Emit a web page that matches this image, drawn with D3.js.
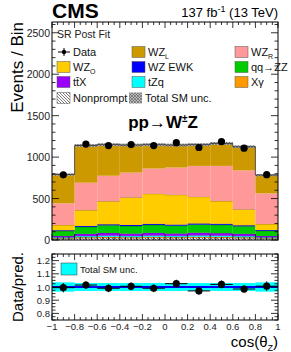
<!DOCTYPE html>
<html>
<head>
<meta charset="utf-8">
<script src="https://d3js.org/d3.v7.min.js"></script>
<style>
  html, body { margin: 0; padding: 0; background: #fff; }
  svg { display: block; font-family: "Liberation Sans", Arial, sans-serif; }
</style>
</head>
<body>
<script>
// bins of cos(theta_Z)
var binEdges = [-1, -0.8, -0.6, -0.4, -0.2, 0, 0.2, 0.4, 0.6, 0.8, 1];

// stacked processes, bottom to top
var nonprompt = [14, 22, 24, 22, 25, 23, 26, 24, 22, 14];
var xgamma    = [8, 12, 13, 12, 13, 12, 13, 13, 12, 8];
var tzq       = [10, 14, 16, 15, 16, 15, 17, 16, 14, 10];
var ttx       = [16, 26, 32, 28, 32, 28, 32, 30, 26, 16];
var qqzz      = [60, 84, 93, 92, 96, 95, 98, 100, 92, 62];
var wzEwk     = [10, 12, 12, 13, 13, 13, 14, 13, 12, 10];
var wzO       = [63, 191, 278, 332, 363, 360, 322, 274, 192, 73];
var wzR       = [261, 330, 307, 299, 304, 328, 372, 424, 470, 369];
var wzL       = [348, 449, 375, 332, 288, 271, 256, 271, 285, 221];

var dataCounts = [786, 1157, 1139, 1151, 1139, 1174, 1116, 1188, 1108, 788];
var relUnc     = [0.035, 0.03, 0.03, 0.03, 0.03, 0.03, 0.03, 0.03, 0.03, 0.035];

var mainTicks  = [0, 500, 1000, 1500, 2000, 2500];
var ratioTicks = [0.8, 0.9, 1.0, 1.1, 1.2];
var xTicks     = [-1, -0.8, -0.6, -0.4, -0.2, 0, 0.2, 0.4, 0.6, 0.8, 1];

var keys = ["nonprompt", "xgamma", "tzq", "ttx", "qqzz", "wzEwk", "wzO", "wzR", "wzL"];
var series = {nonprompt: nonprompt, xgamma: xgamma, tzq: tzq, ttx: ttx, qqzz: qqzz,
              wzEwk: wzEwk, wzO: wzO, wzR: wzR, wzL: wzL};
var colors = {nonprompt: "url(#hatchNP)", xgamma: "#ff9900", tzq: "#00ffff", ttx: "#9900ff",
              qqzz: "#00cc00", wzEwk: "#0000ff", wzO: "#ffcc00", wzR: "#ff9999", wzL: "#cc9900"};

var table = binEdges.slice(0, -1).map(function(lo, i) {
  var row = {lo: lo, hi: binEdges[i + 1]};
  keys.forEach(function(k) { row[k] = series[k][i]; });
  return row;
});
var stacked = d3.stack().keys(keys)(table);
var totals = table.map(function(r) { return d3.sum(keys, function(k) { return r[k]; }); });

var W = 291, H = 352;
var L = 52, R = 278;
var mainTop = 22, mainBot = 240;
var ratTop = 254, ratBot = 320;

var svg = d3.select("body").append("svg").attr("width", W).attr("height", H);
var defs = svg.append("defs");

var p1 = defs.append("pattern").attr("id", "hatchNP").attr("patternUnits", "userSpaceOnUse")
  .attr("width", 3).attr("height", 3);
p1.append("rect").attr("width", 3).attr("height", 3).attr("fill", "#fff");
p1.append("path").attr("d", "M0,0 L3,3 M-1,2 L1,4 M2,-1 L4,1").attr("stroke", "#444").attr("stroke-width", 0.7);

var p2 = defs.append("pattern").attr("id", "hatchUnc").attr("patternUnits", "userSpaceOnUse")
  .attr("width", 3).attr("height", 3);
p2.append("rect").attr("width", 3).attr("height", 3).attr("fill", "#bbb");
p2.append("path").attr("d", "M0,0 L3,3 M3,0 L0,3").attr("stroke", "#555").attr("stroke-width", 0.6);

var x = d3.scaleLinear().domain([-1, 1]).range([L, R]);
var y = d3.scaleLinear().domain([0, 2630]).range([mainBot, mainTop]);
var yr = d3.scaleLinear().domain([0.75, 1.25]).range([ratBot, ratTop]);

// ---- main panel ----
var gMain = svg.append("g");
stacked.forEach(function(layer) {
  gMain.append("g").selectAll("rect").data(layer).enter().append("rect")
    .attr("x", function(d) { return x(d.data.lo); })
    .attr("width", function(d) { return x(d.data.hi) - x(d.data.lo); })
    .attr("y", function(d) { return y(d[1]); })
    .attr("height", function(d) { return y(d[0]) - y(d[1]); })
    .attr("fill", colors[layer.key]);
  if (layer.key !== "wzL" && layer.key !== "wzR") {
    gMain.append("g").selectAll("line").data(layer).enter().append("line")
      .attr("x1", function(d) { return x(d.data.lo); })
      .attr("x2", function(d) { return x(d.data.hi); })
      .attr("y1", function(d) { return y(d[1]); })
      .attr("y2", function(d) { return y(d[1]); })
      .attr("stroke", "#222").attr("stroke-width", 0.6).attr("stroke-opacity", 0.7);
  }
});

// total uncertainty band
gMain.selectAll(".unc").data(table).enter().append("rect")
  .attr("x", function(d) { return x(d.lo); })
  .attr("width", function(d) { return x(d.hi) - x(d.lo); })
  .attr("y", function(d, i) { return y(totals[i] * (1 + relUnc[i] * 0.5)); })
  .attr("height", function(d, i) { return y(totals[i] * (1 - relUnc[i] * 0.5)) - y(totals[i] * (1 + relUnc[i] * 0.5)); })
  .attr("fill", "url(#hatchUnc)");

// total line
var stepPts = [];
table.forEach(function(d, i) { stepPts.push([d.lo, totals[i]], [d.hi, totals[i]]); });
gMain.append("path").datum(stepPts)
  .attr("d", d3.line().x(function(d) { return x(d[0]); }).y(function(d) { return y(d[1]); }))
  .attr("fill", "none").attr("stroke", "#333").attr("stroke-width", 0.8);

// data points
var gData = gMain.append("g");
table.forEach(function(d, i) {
  var cx = x((d.lo + d.hi) / 2), v = dataCounts[i], e = Math.sqrt(v);
  gData.append("line").attr("x1", cx).attr("x2", cx).attr("y1", y(v - e)).attr("y2", y(v + e))
    .attr("stroke", "#000").attr("stroke-width", 1);
  gData.append("circle").attr("cx", cx).attr("cy", y(v)).attr("r", 3.6).attr("fill", "#000");
});

// frame and ticks, ROOT style
function frame(top, bot, yScale, major, minorStep, yDomain) {
  svg.append("rect").attr("x", L).attr("y", top).attr("width", R - L).attr("height", bot - top)
    .attr("fill", "none").attr("stroke", "#000").attr("stroke-width", 1);
  var g = svg.append("g").attr("stroke", "#000").attr("stroke-width", 0.8);
  var minors = d3.range(yDomain[0], yDomain[1] + 1e-9, minorStep);
  minors.forEach(function(v) {
    var isMaj = major.some(function(m) { return Math.abs(m - v) < 1e-6; });
    var len = isMaj ? 7 : 3.5;
    var yy = yScale(v);
    if (yy < top - 0.1 || yy > bot + 0.1) return;
    g.append("line").attr("x1", L).attr("x2", L + len).attr("y1", yy).attr("y2", yy);
    g.append("line").attr("x1", R).attr("x2", R - len).attr("y1", yy).attr("y2", yy);
  });
  d3.range(-1, 1.0001, 0.05).forEach(function(v) {
    var isMaj = Math.abs(Math.round(v * 5) - v * 5) < 1e-6;
    var len = isMaj ? 6 : 3;
    var xx = x(v);
    g.append("line").attr("x1", xx).attr("x2", xx).attr("y1", bot).attr("y2", bot - len);
    g.append("line").attr("x1", xx).attr("x2", xx).attr("y1", top).attr("y2", top + len);
  });
}
frame(mainTop, mainBot, y, mainTicks, 100, [0, 2600]);

svg.append("g").selectAll("text").data(mainTicks).enter().append("text")
  .attr("x", L - 2).attr("y", function(d) { return y(d) + 4; })
  .attr("text-anchor", "end").attr("font-size", 10.5).attr("fill", "#222")
  .text(function(d) { return d; });

// titles
svg.append("text").attr("x", L).attr("y", 18).attr("font-size", 21).attr("font-weight", "bold").text("CMS");
var lum = svg.append("text").attr("x", R).attr("y", 17).attr("text-anchor", "end").attr("font-size", 13);
lum.append("tspan").text("137 fb");
lum.append("tspan").attr("dy", -5).attr("font-size", 9).text("-1");
lum.append("tspan").attr("dy", 5).text(" (13 TeV)");

svg.append("text").attr("transform", "translate(23," + mainTop + ") rotate(-90)")
  .attr("text-anchor", "end").attr("font-size", 17).text("Events / Bin");

svg.append("text").attr("x", 57).attr("y", 38).attr("font-size", 10.5).attr("fill", "#222").text("SR Post Fit");

var proc = svg.append("text").attr("x", 163).attr("y", 128).attr("text-anchor", "middle")
  .attr("font-size", 17).attr("font-weight", "bold");
proc.append("tspan").text("pp\u2192W");
proc.append("tspan").attr("dy", -6).attr("font-size", 10).text("\u00b1");
proc.append("tspan").attr("dy", 6).text("Z");

// legend
var legCols = [57, 132, 235];
var legRows = [52, 67, 82, 98];
var legend = [
  {c: 0, r: 0, type: "data", label: "Data"},
  {c: 1, r: 0, key: "wzL", label: "WZ", sub: "L"},
  {c: 2, r: 0, key: "wzR", label: "WZ", sub: "R"},
  {c: 0, r: 1, key: "wzO", label: "WZ", sub: "O"},
  {c: 1, r: 1, key: "wzEwk", label: "WZ EWK"},
  {c: 2, r: 1, key: "qqzz", label: "qq\u2192ZZ"},
  {c: 0, r: 2, key: "ttx", label: "tt\u0304X"},
  {c: 1, r: 2, key: "tzq", label: "tZq"},
  {c: 2, r: 2, key: "xgamma", label: "X\u03b3"},
  {c: 0, r: 3, key: "nonprompt", label: "Nonprompt"},
  {c: 0, r: 3, type: "unc", xo: 72, label: "Total SM unc."}
];
var gLeg = svg.append("g");
legend.forEach(function(e) {
  var lx = legCols[e.c] + (e.xo || 0), ly = legRows[e.r];
  if (e.type === "data") {
    gLeg.append("line").attr("x1", lx + 1).attr("x2", lx + 13).attr("y1", ly).attr("y2", ly).attr("stroke", "#000");
    gLeg.append("line").attr("x1", lx + 7).attr("x2", lx + 7).attr("y1", ly - 4).attr("y2", ly + 4).attr("stroke", "#000");
    gLeg.append("circle").attr("cx", lx + 7).attr("cy", ly).attr("r", 2.2).attr("fill", "#000");
  } else {
    gLeg.append("rect").attr("x", lx).attr("y", ly - 5.5).attr("width", 13).attr("height", 11)
      .attr("fill", e.type === "unc" ? "url(#hatchUnc)" : colors[e.key])
      .attr("stroke", e.type === "unc" ? "none" : "#555").attr("stroke-width", 0.5);
  }
  var t = gLeg.append("text").attr("x", lx + 16).attr("y", ly + 4).attr("font-size", 11).attr("fill", "#111");
  t.append("tspan").text(e.label);
  if (e.sub) t.append("tspan").attr("dy", 3).attr("font-size", 7).text(e.sub);
});

// ---- ratio panel ----
var gRat = svg.append("g");
gRat.selectAll("rect").data(table).enter().append("rect")
  .attr("x", function(d) { return x(d.lo); })
  .attr("width", function(d) { return x(d.hi) - x(d.lo); })
  .attr("y", function(d, i) { return yr(1 + relUnc[i]); })
  .attr("height", function(d, i) { return yr(1 - relUnc[i]) - yr(1 + relUnc[i]); })
  .attr("fill", "#00ffff");
gRat.append("line").attr("x1", L).attr("x2", R).attr("y1", yr(1)).attr("y2", yr(1))
  .attr("stroke", "#0000ff").attr("stroke-width", 1.8);
table.forEach(function(d, i) {
  var r = dataCounts[i] / totals[i], e = Math.sqrt(dataCounts[i]) / totals[i];
  var cx = x((d.lo + d.hi) / 2);
  gRat.append("line").attr("x1", x(d.lo)).attr("x2", x(d.hi)).attr("y1", yr(r)).attr("y2", yr(r))
    .attr("stroke", "#000").attr("stroke-width", 1);
  gRat.append("line").attr("x1", cx).attr("x2", cx).attr("y1", yr(r - e)).attr("y2", yr(r + e))
    .attr("stroke", "#000").attr("stroke-width", 1);
  gRat.append("circle").attr("cx", cx).attr("cy", yr(r)).attr("r", 3.6).attr("fill", "#000");
});

frame(ratTop, ratBot, yr, ratioTicks, 0.025, [0.75, 1.25]);

svg.append("g").selectAll("text").data(ratioTicks).enter().append("text")
  .attr("x", L - 2).attr("y", function(d) { return yr(d) + 3.5; })
  .attr("text-anchor", "end").attr("font-size", 9.5).attr("fill", "#222")
  .text(function(d) { return d.toFixed(1); });

svg.append("g").selectAll("text").data(xTicks).enter().append("text")
  .attr("x", function(d) { return x(d); }).attr("y", 330)
  .attr("text-anchor", "middle").attr("font-size", 9.5).attr("fill", "#222")
  .text(function(d) { return d3.format("")(d).replace("-", "\u2212"); });

var xt = svg.append("text").attr("x", R).attr("y", 347).attr("text-anchor", "end").attr("font-size", 15);
xt.append("tspan").text("cos(\u03b8");
xt.append("tspan").attr("dy", 4).attr("font-size", 9).text("Z");
xt.append("tspan").attr("dy", -4).text(")");

svg.append("text").attr("transform", "translate(23," + ((ratTop + ratBot) / 2) + ") rotate(-90)")
  .attr("text-anchor", "middle").attr("font-size", 15).text("Data/pred.");

// ratio legend
svg.append("rect").attr("x", 61).attr("y", 263).attr("width", 16).attr("height", 12)
  .attr("fill", "#00ffff").attr("stroke", "#333").attr("stroke-width", 0.5);
svg.append("text").attr("x", 80).attr("y", 272.5).attr("font-size", 9.5).attr("fill", "#111").text("Total SM unc.");
</script>
</body>
</html>
